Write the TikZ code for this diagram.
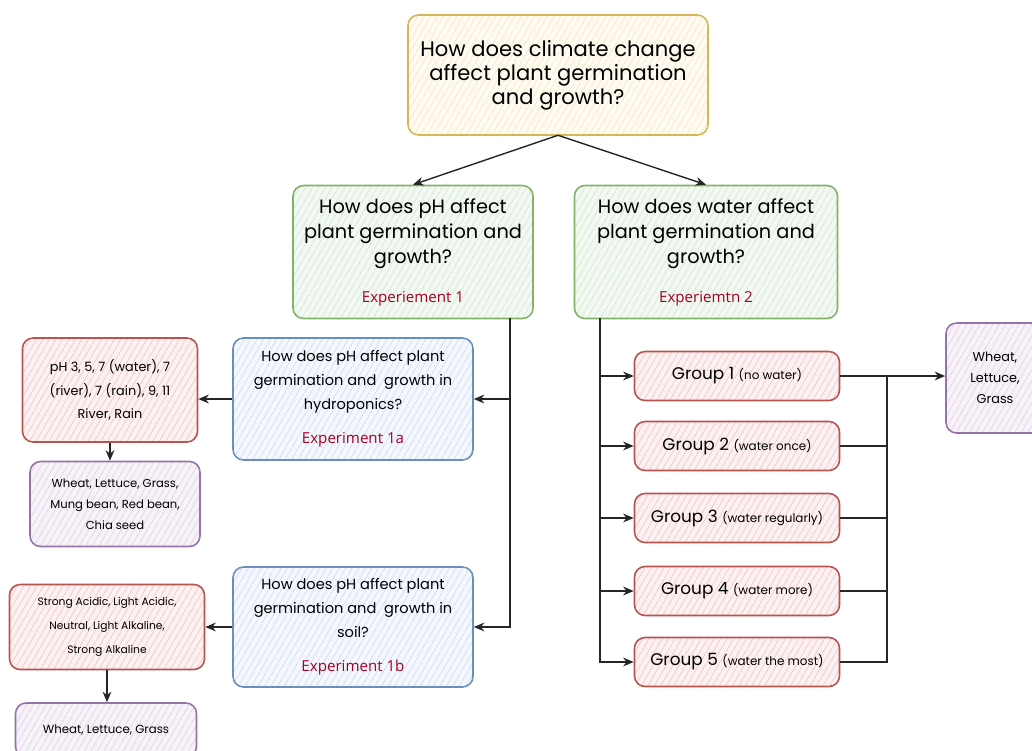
\documentclass[tikz,border=0pt]{standalone}
\usepackage{fontspec}
\setmainfont{Poppins}
\newfontfamily\labelfont{Open Sans}
\usetikzlibrary{arrows.meta,patterns.meta}

\definecolor{rootfill}{HTML}{FFF2CC}\definecolor{rootline}{HTML}{D6B656}
\definecolor{qfill}{HTML}{D5E8D4}\definecolor{qline}{HTML}{82B366}
\definecolor{expfill}{HTML}{DAE8FC}\definecolor{expline}{HTML}{6C8EBF}
\definecolor{varfill}{HTML}{F8CECC}\definecolor{varline}{HTML}{B85450}
\definecolor{plantfill}{HTML}{E1D5E7}\definecolor{plantline}{HTML}{9673A6}
\definecolor{explabel}{HTML}{A20025}

\tikzset{
  sketchbox/.style={draw=#1line, line width=0.9pt, rounded corners=6pt,
    preaction={fill=#1fill!30}, pattern color=#1line!35,
    pattern={Lines[angle=60,distance=3.2pt,line width=0.3pt]},
    align=center, inner sep=2pt},
  arrow/.style={draw=black!85, line width=0.8pt, -{Stealth[length=6pt,width=5pt]}},
  link/.style={draw=black!85, line width=0.8pt},
}
\newcommand{\explbl}[1]{{\labelfont\fontsize{8.6}{10}\selectfont\color{explabel}#1}}

\begin{document}
\begin{tikzpicture}[x=0.02cm, y=-0.02cm]
  \clip (0,0) rectangle (1032,751);
  \fill[white] (0,0) rectangle (1032,751);

  % main question
  \node[sketchbox=root, minimum width=300*0.02cm, minimum height=120*0.02cm,
        font=\fontsize{12}{13.6}\selectfont] (root) at (558,75)
    {How does climate change\\affect plant germination\\and growth?};

  % sub questions
  \node[sketchbox=q, minimum width=240*0.02cm, minimum height=133*0.02cm,
        font=\fontsize{11}{14.2}\selectfont] (phq) at (413,252)
    {How does pH affect\\plant germination and\\growth?\\[8pt]\explbl{Experiement 1}};
  \node[sketchbox=q, minimum width=263*0.02cm, minimum height=133*0.02cm,
        font=\fontsize{11}{14.2}\selectfont] (waterq) at (706,252)
    {How does water affect\\plant germination and\\growth?\\[8pt]\explbl{Experiemtn 2}};

  % pH experiments
  \node[sketchbox=exp, minimum width=240*0.02cm, minimum height=122*0.02cm,
        font=\fontsize{8.3}{13.6}\selectfont] (hydro) at (353,399)
    {How does pH affect plant\\germination and\ \ growth in\\hydroponics?\\[6pt]\explbl{Experiment 1a}};
  \node[sketchbox=exp, minimum width=240*0.02cm, minimum height=120*0.02cm,
        font=\fontsize{8.3}{13.6}\selectfont] (soil) at (353,627)
    {How does pH affect plant\\germination and\ \ growth in\\soil?\\[6pt]\explbl{Experiment 1b}};

  % pH levels and plants
  \node[sketchbox=var, minimum width=175*0.02cm, minimum height=104*0.02cm,
        font=\fontsize{7.3}{13.6}\selectfont] (phlevels) at (110,390)
    {pH 3, 5, 7 (water), 7\\(river), 7 (rain), 9, 11\\River, Rain};
  \node[sketchbox=plant, minimum width=170*0.02cm, minimum height=85*0.02cm,
        font=\fontsize{6.6}{12}\selectfont] (plantsa) at (115,504)
    {Wheat, Lettuce, Grass,\\Mung bean, Red bean,\\Chia seed};
  \node[sketchbox=var, minimum width=195*0.02cm, minimum height=85*0.02cm,
        font=\fontsize{6.1}{13.6}\selectfont] (soiltypes) at (107,627)
    {Strong Acidic, Light Acidic,\\Neutral, Light Alkaline,\\Strong Alkaline};
  \node[sketchbox=plant, minimum width=181*0.02cm, minimum height=54*0.02cm,
        font=\fontsize{6.7}{12}\selectfont] (plantsb) at (106,730)
    {Wheat, Lettuce, Grass};

  % water groups
  \foreach \i/\yy/\txt in {1/376/{Group 1 {\fontsize{6.8}{8}\selectfont(no water)}},
                           2/446/{Group 2 {\fontsize{6.8}{8}\selectfont(water once)}},
                           3/518/{Group 3 {\fontsize{6.8}{8}\selectfont(water regularly)}},
                           4/591/{Group 4 {\fontsize{6.8}{8}\selectfont(water more)}},
                           5/662/{Group 5 {\fontsize{6.8}{8}\selectfont(water the most)}}}
    \node[sketchbox=var, minimum width=205*0.02cm, minimum height=49*0.02cm,
          font=\fontsize{9.6}{11}\selectfont] (grp\i) at (737,\yy) {\txt};
  \node[sketchbox=plant, minimum width=98*0.02cm, minimum height=110*0.02cm,
        font=\fontsize{7.3}{12}\selectfont] (plantsw) at (995,378)
    {Wheat,\\Lettuce,\\Grass};

  % connectors
  \draw[arrow] (root.south) -- (phq.north);
  \draw[arrow] (root.south) -- (waterq.north);
  \coordinate (phdrop) at (510,318);
  \draw[arrow] (phdrop) |- (hydro.east);
  \draw[arrow] (phdrop) |- (soil.east);
  \draw[arrow] (hydro.west) -- (hydro.west -| phlevels.east);
  \draw[arrow] (phlevels.south) -- (phlevels.south |- plantsa.north);
  \draw[arrow] (soil.west) -- (soiltypes.east);
  \draw[arrow] (soiltypes.south) -- (soiltypes.south |- plantsb.north);
  \coordinate (wdrop) at (600,318);
  \foreach \i in {1,...,5}
    \draw[arrow] (wdrop) |- (grp\i.west);
  \coordinate (merge) at (887,376);
  \foreach \i in {2,...,5}
    \draw[link] (grp\i.east) -| (merge);
  \draw[arrow] (grp1.east) -- (grp1.east -| plantsw.west);
\end{tikzpicture}
\end{document}
